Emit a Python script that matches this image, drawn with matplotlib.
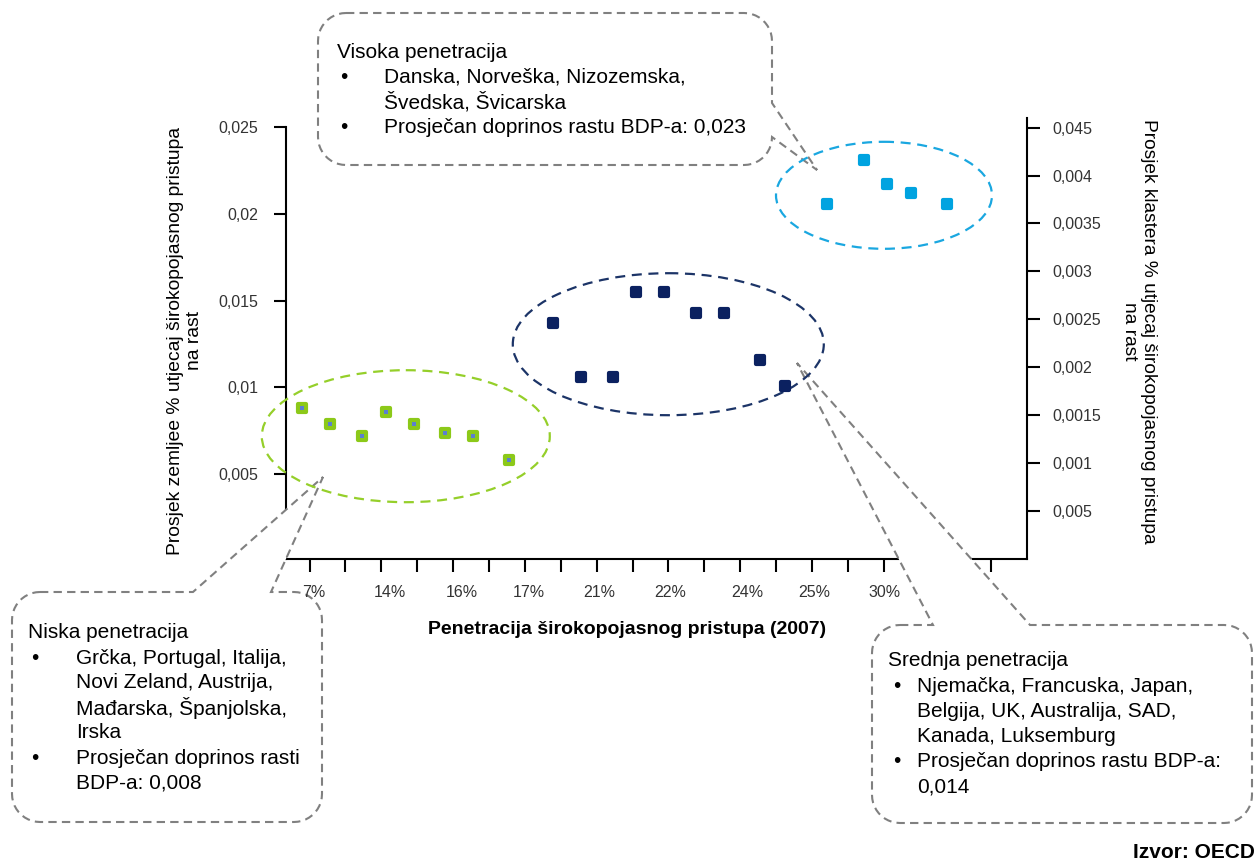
import matplotlib
matplotlib.use("Agg")
import matplotlib.pyplot as plt
import matplotlib.transforms as mtransforms
from matplotlib.patches import Ellipse, PathPatch
from matplotlib.path import Path
from matplotlib.markers import MarkerStyle
import numpy as np

plt.rcParams['font.family'] = ['Liberation Sans', 'DejaVu Sans']

# x axis: tick slots along the penetration axis, labels sit roughly on every second slot
tick_slots = [1, 2, 3, 4, 5, 6, 7, 8, 9, 10, 11, 12, 13, 14, 15, 16, 17, 20]
label_pos = [1.11, 3.24, 5.24, 7.10, 9.06, 11.06, 13.21, 15.06, 17.01]
x_labels = ['7%', '14%', '16%', '17%', '21%', '22%', '24%', '25%', '30%']

left_ticks = [0.005, 0.01, 0.015, 0.02, 0.025]
left_labels = ['0,005', '0,01', '0,015', '0,02', '0,025']
right_ticks = [0.0005, 0.001, 0.0015, 0.002, 0.0025, 0.003, 0.0035, 0.004, 0.0045]
right_labels = ['0,005', '0,001', '0,0015', '0,002', '0,0025', '0,003', '0,0035', '0,004', '0,045']

# country points (x = slot position, y = left axis value)
low_x = [0.80, 1.58, 2.45, 3.12, 3.91, 4.78, 5.56, 6.57]
low_y = [0.0088, 0.0079, 0.0072, 0.0086, 0.0079, 0.0074, 0.0072, 0.0058]
mid_x = [7.77, 8.56, 9.45, 10.11, 10.89, 11.77, 12.55, 13.56, 14.26]
mid_y = [0.0137, 0.0106, 0.0106, 0.0155, 0.0155, 0.0143, 0.0143, 0.0116, 0.0101]
high_x = [15.43, 16.44, 17.09, 17.77, 18.75]
high_y = [0.0206, 0.0231, 0.0217, 0.0212, 0.0206]

high_text = ['Visoka penetracija',
             ['Danska, Norveška, Nizozemska,', 'Švedska, Švicarska'],
             ['Prosječan doprinos rastu BDP-a: 0,023']]
low_text = ['Niska penetracija',
            ['Grčka, Portugal, Italija,', 'Novi Zeland, Austrija,',
             'Mađarska, Španjolska,', 'Irska'],
            ['Prosječan doprinos rasti', 'BDP-a: 0,008']]
mid_text = ['Srednja penetracija',
            ['Njemačka, Francuska, Japan,', 'Belgija, UK, Australija, SAD,',
             'Kanada, Luksemburg'],
            ['Prosječan doprinos rastu BDP-a:', '0,014']]

W, H = 1255, 861
fig = plt.figure(figsize=(W / 100, H / 100), dpi=100)
fig.patch.set_facecolor('white')
# pixel coordinates measured from the top-left corner
px = mtransforms.Affine2D().scale(1 / W, -1 / H).translate(0, 1) + fig.transFigure

ax = fig.add_axes([286 / W, 1 - 559 / H, 741 / W, 441 / H])
ax2 = ax.twinx()

green = '#8CC919'
navy = '#0B2160'
light = '#00A3E0'
grey_txt = '#333333'

sq = MarkerStyle('s', joinstyle='round')
ax.plot(low_x, low_y, ls='none', marker=sq, ms=5.2, mew=3, mfc=green, mec=green, zorder=3.6, clip_on=False)
ax.plot(low_x, low_y, ls='none', marker='s', ms=2.3, mew=0, mfc='#5B7FD0', zorder=3.7, clip_on=False)
ax.plot(mid_x, mid_y, ls='none', marker=sq, ms=5.8, mew=3, mfc=navy, mec=navy, zorder=3.6, clip_on=False)
ax.plot(high_x, high_y, ls='none', marker=sq, ms=5.8, mew=3, mfc=light, mec=light, zorder=3.6, clip_on=False)

ax.set_xlim(0.345, 20.99)
ax.set_ylim(0.00011, 0.02553)
ax2.set_ylim(0.0, 0.0046)

# tick marks on every slot (minor), labels without marks (major)
ax.set_xticks(tick_slots, minor=True)
ax.set_xticks(label_pos)
ax.set_xticklabels(x_labels)
ax.set_yticks(left_ticks)
ax.set_yticklabels(left_labels)
ax2.set_yticks(right_ticks)
ax2.set_yticklabels(right_labels)

ax.tick_params(axis='x', which='minor', direction='out', length=9, width=1.5)
ax.tick_params(axis='x', which='major', length=0, labelsize=11.5, labelcolor=grey_txt, pad=19)
ax.tick_params(axis='y', direction='out', length=8.5, width=1.5,
               labelsize=11.5, labelcolor=grey_txt, pad=11.5)
ax2.tick_params(axis='y', direction='out', length=9.5, width=1.5,
                labelsize=11.5, labelcolor=grey_txt, pad=9)

for s in ['top', 'right']:
    ax.spines[s].set_visible(False)
for s in ['top', 'left', 'bottom']:
    ax2.spines[s].set_visible(False)
ax.spines['left'].set_linewidth(1.5)
ax.spines['bottom'].set_linewidth(1.5)
ax2.spines['right'].set_linewidth(1.5)
ax.spines['left'].set_bounds(0.00011, 0.025)
ax.xaxis.set_zorder(4)

ax.set_xlabel('Penetracija širokopojasnog pristupa (2007)', fontsize=14, fontweight='bold',
              va='center')
ax.xaxis.set_label_coords((627 - 286) / 741, (559 - 629) / 441)
ax.set_ylabel('Prosjek zemljee % utjecaj širokopojasnog pristupa\nna rast', fontsize=13.9,
              ha='center', va='center', rotation_mode='default', linespacing=1.2)
ax.yaxis.set_label_coords((185 - 286) / 741, (559 - 341) / 441)
ax2.set_ylabel('Prosjek klastera % utjecaj širokopojasnog pristupa\nna rast', fontsize=13.8,
               rotation=270, ha='center', va='center', rotation_mode='default', linespacing=1.2)
ax2.yaxis.set_label_coords((1139 - 286) / 741, (559 - 331) / 441)

# dashed cluster ellipses
for (cx, cy, w, h, c) in [(405.8, 436.2, 288, 132, '#95CF2A'),
                          (668.3, 344.2, 311, 142, '#1C3467'),
                          (884.0, 195.3, 216, 107, '#1AA7E0')]:
    ax.add_patch(Ellipse((cx, cy), w, h, transform=px, fill=False, ec=c, lw=1.6,
                         ls=(0, (4.5, 3)), zorder=3.5, clip_on=False))


def callout(x0, y0, x1, y1, r, side, a, b, tip):
    pts = []

    def arc(cx, cy, t0, t1):
        for t in np.linspace(np.radians(t0), np.radians(t1), 12):
            pts.append((cx + r * np.cos(t), cy + r * np.sin(t)))

    pts.append((x0 + r, y0))
    if side == 'top':
        pts += [(a, y0), tip, (b, y0)]
    pts.append((x1 - r, y0))
    arc(x1 - r, y0 + r, -90, 0)
    if side == 'right':
        pts += [(x1, a), tip, (x1, b)]
    pts.append((x1, y1 - r))
    arc(x1 - r, y1 - r, 0, 90)
    arc(x0 + r, y1 - r, 90, 180)
    arc(x0 + r, y0 + r, 180, 270)
    pts.append(pts[0])
    return Path(pts)


for path in [callout(318, 13, 772, 165, 28, 'right', 103, 137, (817, 170)),
             callout(12, 592, 322, 822, 28, 'top', 193, 271, (323, 477)),
             callout(872, 625, 1252, 823, 28, 'top', 933, 1030, (797, 363))]:
    ax.add_patch(PathPatch(path, transform=px, fc='white', ec='#808080', lw=1.5,
                           ls=(0, (4, 2.5)), zorder=3, clip_on=False))


def box_text(lines, x_head, y_head, x_bul, x_txt, step):
    fig.text(x_head, y_head, lines[0], transform=px, fontsize=15, va='center', ha='left')
    y = y_head
    for group in lines[1:]:
        y += step
        fig.text(x_bul, y, '•', transform=px, fontsize=15, va='center', ha='left')
        for i, ln in enumerate(group):
            if i > 0:
                y += step
            fig.text(x_txt, y, ln, transform=px, fontsize=15, va='center', ha='left')


box_text(high_text, 337, 52, 340, 384, 25.3)
box_text(low_text, 28, 633, 31, 76.5, 25.0)
box_text(mid_text, 888, 661, 893, 917, 25.2)

fig.text(1133, 852, 'Izvor: OECD', transform=px, fontsize=15, fontweight='bold',
         va='center', ha='left')

fig.savefig('out.png', dpi=100)
